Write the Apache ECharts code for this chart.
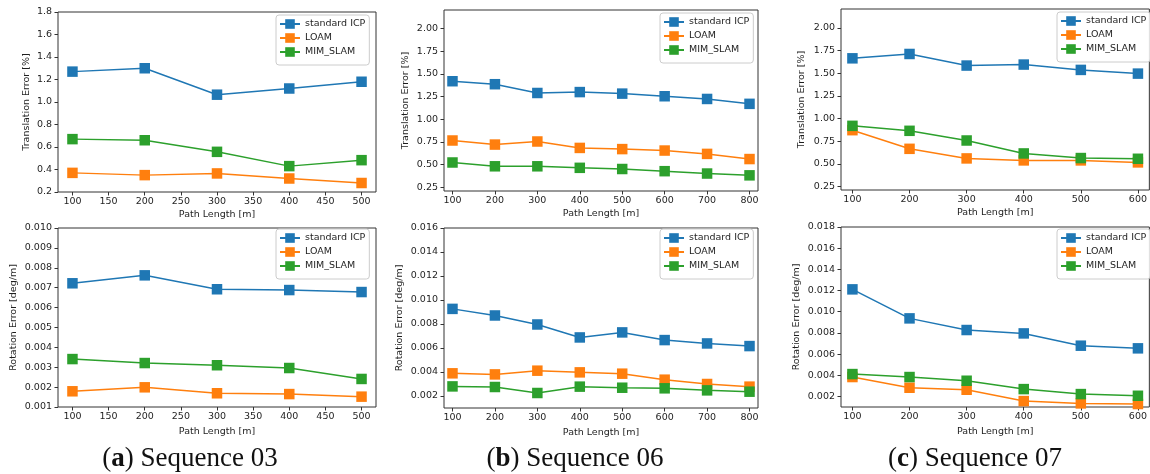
<!DOCTYPE html>
<html>
<head>
<meta charset="utf-8">
<script src="https://cdn.jsdelivr.net/npm/echarts@6/dist/echarts.min.js"></script>
<style>
html,body{margin:0;padding:0;background:#fff;}
#chart{width:1150px;height:474px;}
</style>
</head>
<body>
<div id="chart"></div>
<script>
// ---------- data ----------
const seriesNames = ['standard ICP', 'LOAM', 'MIM_SLAM'];
const path03 = [100, 200, 300, 400, 500];
const path06 = [100, 200, 300, 400, 500, 600, 700, 800];
const path07 = [100, 200, 300, 400, 500, 600];

const trans03Icp  = [1.27, 1.30, 1.065, 1.12, 1.18];
const trans03Loam = [0.37, 0.35, 0.365, 0.32, 0.28];
const trans03Mim  = [0.67, 0.66, 0.557, 0.43, 0.483];

const trans06Icp  = [1.42, 1.387, 1.29, 1.30, 1.283, 1.254, 1.224, 1.17];
const trans06Loam = [0.765, 0.72, 0.754, 0.683, 0.67, 0.654, 0.617, 0.56];
const trans06Mim  = [0.522, 0.48, 0.48, 0.463, 0.45, 0.426, 0.40, 0.38];

const trans07Icp  = [1.665, 1.713, 1.585, 1.596, 1.537, 1.496];
const trans07Loam = [0.871, 0.665, 0.559, 0.537, 0.537, 0.515];
const trans07Mim  = [0.919, 0.864, 0.757, 0.614, 0.563, 0.555];

const rot03Icp  = [0.00722, 0.00762, 0.00692, 0.00688, 0.00678];
const rot03Loam = [0.00179, 0.00199, 0.00169, 0.00165, 0.00152];
const rot03Mim  = [0.00341, 0.00321, 0.00310, 0.00296, 0.00241];

const rot06Icp  = [0.00926, 0.00871, 0.00796, 0.00688, 0.00730, 0.00666, 0.00638, 0.00616];
const rot06Loam = [0.00389, 0.00380, 0.00411, 0.00397, 0.00386, 0.00336, 0.00300, 0.00278];
const rot06Mim  = [0.00280, 0.00275, 0.00225, 0.00278, 0.00269, 0.00264, 0.00247, 0.00236];

const rot07Icp  = [0.01211, 0.00937, 0.00827, 0.00795, 0.00679, 0.00654];
const rot07Loam = [0.00383, 0.00282, 0.00263, 0.00156, 0.00134, 0.00128];
const rot07Mim  = [0.00411, 0.00383, 0.00348, 0.00269, 0.00222, 0.00206];

// tick labels
const xTicks03 = [100, 150, 200, 250, 300, 350, 400, 450, 500];
const xTicks06 = [100, 200, 300, 400, 500, 600, 700, 800];
const xTicks07 = [100, 200, 300, 400, 500, 600];
const yTicksTrans03 = [0.2, 0.4, 0.6, 0.8, 1.0, 1.2, 1.4, 1.6, 1.8];
const yTicksTrans0607 = [0.25, 0.50, 0.75, 1.00, 1.25, 1.50, 1.75, 2.00];
const yTicksRot03 = [0.001, 0.002, 0.003, 0.004, 0.005, 0.006, 0.007, 0.008, 0.009, 0.010];
const yTicksRot06 = [0.002, 0.004, 0.006, 0.008, 0.010, 0.012, 0.014, 0.016];
const yTicksRot07 = [0.002, 0.004, 0.006, 0.008, 0.010, 0.012, 0.014, 0.016, 0.018];

const captions = [['a', 'Sequence 03'], ['b', 'Sequence 06'], ['c', 'Sequence 07']];
const transTitle = 'Translation Error [%]';
const rotTitle = 'Rotation Error [deg/m]';
const xTitle = 'Path Length [m]';

// ---------- layout / styles ----------
const colors = ['#1f77b4', '#ff7f0e', '#2ca02c'];
const FONT = 'DejaVu Sans';
const FS = 9.5;
const TXT = '#1e1e1e';

const panels = [
  {grid:{left:58, top:12, width:318, height:180}, x:[80,520], xt:xTicks03, y:[0.2,1.8], yt:yTicksTrans03, dec:1, yName:transTitle, yGap:26, xGap:18,
   xs:path03, d:[trans03Icp, trans03Loam, trans03Mim], leg:{left:276, top:15}},
  {grid:{left:444, top:10, width:314, height:181}, x:[80,820], xt:xTicks06, y:[0.207,2.207], yt:yTicksTrans0607, dec:2, yName:transTitle, yGap:33, xGap:18,
   xs:path06, d:[trans06Icp, trans06Loam, trans06Mim], leg:{left:660, top:13}},
  {grid:{left:841, top:9, width:314, height:181}, x:[80,620], xt:xTicks07, y:[0.21,2.21], yt:yTicksTrans0607, dec:2, yName:transTitle, yGap:34, xGap:18,
   xs:path07, d:[trans07Icp, trans07Loam, trans07Mim], leg:{left:1057, top:12}},
  {grid:{left:58, top:228, width:318, height:179}, x:[80,520], xt:xTicks03, y:[0.001,0.010], yt:yTicksRot03, dec:3, yName:rotTitle, yGap:39, xGap:20,
   xs:path03, d:[rot03Icp, rot03Loam, rot03Mim], leg:{left:276, top:229}},
  {grid:{left:444, top:228, width:314, height:180}, x:[80,820], xt:xTicks06, y:[0.001,0.016], yt:yTicksRot06, dec:3, yName:rotTitle, yGap:39, xGap:20,
   xs:path06, d:[rot06Icp, rot06Loam, rot06Mim], leg:{left:660, top:229}},
  {grid:{left:841, top:227, width:314, height:180}, x:[80,620], xt:xTicks07, y:[0.001,0.018], yt:yTicksRot07, dec:3, yName:rotTitle, yGap:39, xGap:20,
   xs:path07, d:[rot07Icp, rot07Loam, rot07Mim], leg:{left:1057, top:229}}
];

const grid = [], xAxis = [], yAxis = [], series = [], legend = [];
panels.forEach((p, i) => {
  grid.push(Object.assign({show:true, borderColor:'#333', borderWidth:1, backgroundColor:'transparent', containLabel:false}, p.grid));
  xAxis.push({
    type:'value', gridIndex:i, min:p.x[0], max:p.x[1],
    name:xTitle, nameLocation:'middle', nameGap:p.xGap,
    nameTextStyle:{fontFamily:FONT, fontSize:FS, color:TXT},
    axisLine:{show:false}, splitLine:{show:false},
    axisTick:{show:true, length:3.5, lineStyle:{color:'#333'}, customValues:p.xt},
    axisLabel:{fontFamily:FONT, fontSize:FS, color:TXT, margin:5, customValues:p.xt, formatter:v => String(v)}
  });
  yAxis.push({
    type:'value', gridIndex:i, min:p.y[0], max:p.y[1],
    name:p.yName, nameLocation:'middle', nameGap:p.yGap, nameRotate:90,
    nameTextStyle:{fontFamily:FONT, fontSize:FS, color:TXT},
    axisLine:{show:false}, splitLine:{show:false},
    axisTick:{show:true, length:3.5, lineStyle:{color:'#333'}, customValues:p.yt},
    axisLabel:{fontFamily:FONT, fontSize:FS, color:TXT, margin:6, customValues:p.yt, formatter:v => Number(v).toFixed(p.dec)}
  });
  p.d.forEach((vals, k) => {
    series.push({
      type:'line', name:seriesNames[k], xAxisIndex:i, yAxisIndex:i,
      data:p.xs.map((x, j) => [x, vals[j]]),
      symbol:'rect', symbolSize:10.5, showSymbol:true,
      lineStyle:{color:colors[k], width:1.5},
      itemStyle:{color:colors[k]},
      animation:false, silent:true, z:2 + k
    });
  });
  legend.push({
    data:seriesNames, orient:'vertical', left:p.leg.left, top:p.leg.top,
    itemWidth:20, itemHeight:12, itemGap:4,
    padding:[4,4,8,3],
    backgroundColor:'rgba(255,255,255,0.85)', borderColor:'#cccccc', borderWidth:1, borderRadius:3,
    textStyle:{fontFamily:FONT, fontSize:FS, color:TXT},
    selectedMode:false
  });
});

const capCenters = [190, 575, 975];
const graphic = captions.map((c, i) => ({
  type:'text', x:capCenters[i], y:459,
  style:{
    text:'(' + '{b|' + c[0] + '}) ' + c[1],
    align:'center', verticalAlign:'middle',
    fontFamily:'Liberation Serif', fontSize:27, fill:'#111',
    rich:{b:{fontFamily:'Liberation Serif', fontSize:27, fontWeight:'bold', fill:'#111'}}
  }
}));

const chart = echarts.init(document.getElementById('chart'), null, {renderer:'canvas'});
chart.setOption({animation:false, grid, xAxis, yAxis, series, legend, graphic});
</script>
</body>
</html>
